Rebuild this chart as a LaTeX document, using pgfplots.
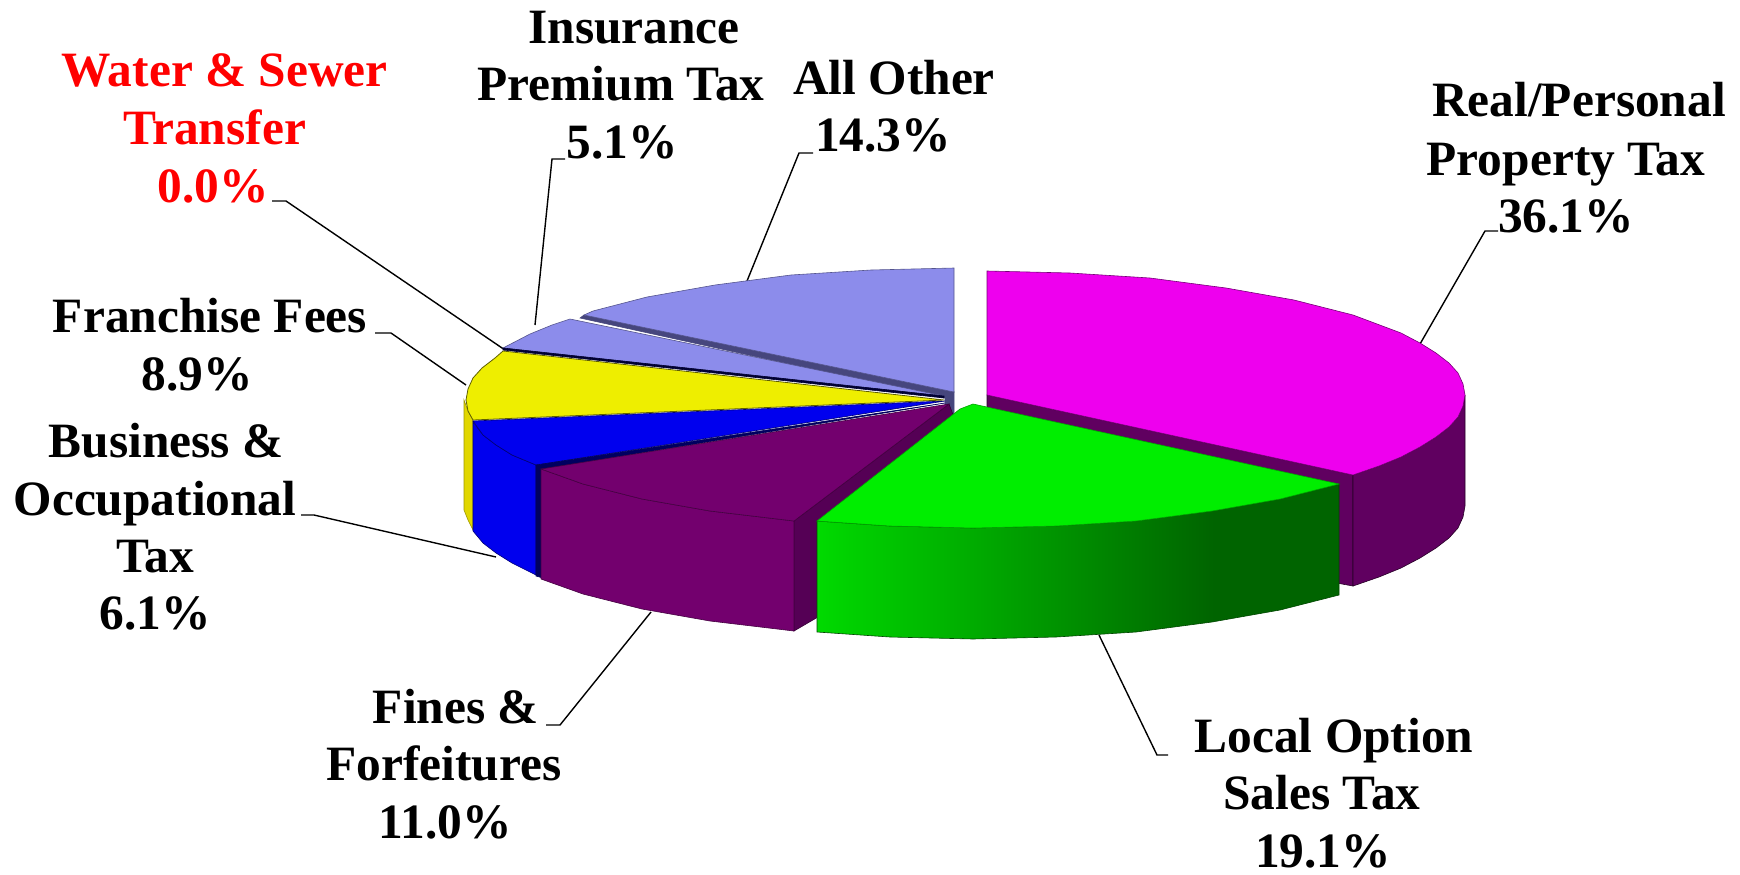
\documentclass[border=0pt]{standalone}
\usepackage{pgfplots}
\pgfplotsset{compat=1.18}
\usepackage{fontspec}
\setmainfont{Liberation Serif}
\definecolor{mag}{RGB}{238,0,238}
\definecolor{magside}{RGB}{96,0,96}
\definecolor{grn}{RGB}{0,238,0}
\definecolor{grnA}{RGB}{0,218,0}
\definecolor{grnB}{RGB}{0,100,0}
\definecolor{pur}{RGB}{115,0,110}
\definecolor{purin}{RGB}{85,0,85}
\definecolor{blu}{RGB}{0,0,238}
\definecolor{navy2}{RGB}{0,0,95}
\definecolor{yel}{RGB}{238,238,0}
\definecolor{yelside}{RGB}{225,215,0}
\definecolor{peri}{RGB}{140,140,235}
\definecolor{peridk}{RGB}{70,70,125}
\pgfdeclarehorizontalshading{greenside}{100bp}{color(0bp)=(grnA); color(25bp)=(grnA); color(63bp)=(grnB); color(75bp)=(grnB); color(100bp)=(grnB)}
\tikzset{
  lab/.style={anchor=base, inner sep=0pt, font=\fontsize{24.7}{29}\selectfont\bfseries},
  ln/.style={black, line width=0.7pt},
}
\begin{document}
\begin{tikzpicture}
\begin{axis}[
  scale only axis, width=870pt, height=437pt,
  xmin=0, xmax=1740, ymin=0, ymax=874, y dir=reverse,
  hide axis, clip=false,
  every axis plot/.append style={no markers},
]
% keeps the full page extent
\addplot[draw=none] coordinates {(0,0)(1740,874)};
% leader lines
\addplot[ln] coordinates {(1420,344)(1485,231)(1498,231)};
\addplot[ln] coordinates {(1099,635)(1157,755)(1168,755)};
\addplot[ln] coordinates {(651,612)(560,725)(546,725)};
\addplot[ln] coordinates {(496,557)(314,515)(301,515)};
\addplot[ln] coordinates {(466,385)(391,333)(375,333)};
\addplot[ln] coordinates {(505,350)(286,201)(272,201)};
\addplot[ln] coordinates {(535,325)(552,159)(565,159)};
\addplot[ln] coordinates {(747,281)(799,153)(813,153)};
% Real/Personal Property Tax
\addplot[fill=magside, draw=black!60!magside, line width=0.3pt] coordinates {(987,395)(1353,475)(1353,586)(1320,580)(987,420)} --cycle;
\addplot[fill=magside, draw=black!60!magside, line width=0.3pt] coordinates {(1353,475)(1379,466)(1401,457)(1420,447)(1436,437)(1449,427)(1458,417)(1463,406)(1465,395)(1465,506)(1463,517)(1458,528)(1449,538)(1436,548)(1420,558)(1401,568)(1379,577)(1353,586)} --cycle;
\addplot[fill=mag, draw=black!50!mag, line width=0.3pt] coordinates {(987,395)(987,271)(1070,273)(1150,278)(1226,288)(1294,300)(1353,315)(1401,333)(1420,343)(1436,353)(1449,363)(1458,373)(1463,384)(1465,395)(1463,406)(1458,417)(1449,427)(1436,437)(1420,447)(1401,457)(1379,466)(1353,475)} --cycle;
% All Other
\addplot[fill=peridk, draw=peridk, line width=0.3pt] coordinates {(945,392)(954,392)(954,418)(945,404)} --cycle;
\addplot[fill=peridk, draw=peridk, line width=0.3pt] coordinates {(580,318)(584,315)(954,392)(944,398)} --cycle;
\addplot[fill=peri, draw=black!40!peri, line width=0.3pt] coordinates {(954,392)(954,268)(871,270)(791,275)(715,285)(647,297)(593,311)(584,315)} --cycle;
% Insurance Premium Tax
\addplot[fill=peri, draw=black!40!peri, line width=0.3pt] coordinates {(944,396)(570,319)(552,325)(530,334)(503,348)} --cycle;
\addplot[fill=black!80!blue, draw=black!80!blue, line width=0.3pt] coordinates {(503,348)(944,396)(944,398)(503,350)} --cycle;
% Franchise Fees
\addplot[fill=yelside, draw=yelside!70!black, line width=0.3pt] coordinates {(464,400)(468,411)(473,420)(473,530)(468,520)(464,510)} --cycle;
\addplot[fill=yel, draw=black!60!yel, line width=0.4pt] coordinates {(944,400)(503,351)(495,358)(482,368)(473,378)(468,389)(466,400)(468,411)(473,420)} --cycle;
% Business & Occupational Tax
\addplot[fill=blu, draw=black!50!blu, line width=0.3pt] coordinates {(473,422)(483,435)(496,445)(512,455)(536,465)(536,575)(512,563)(496,553)(483,543)(473,531)} --cycle;
\addplot[fill=navy2, draw=navy2, line width=0.3pt] coordinates {(536,464)(543,468)(543,578)(536,576)} --cycle;
\addplot[fill=blu, draw=black!50!blu, line width=0.3pt] coordinates {(945,401)(473,421)(483,435)(496,445)(512,455)(536,465)} --cycle;
\addplot[fill=navy2, draw=navy2, line width=0.3pt] coordinates {(536,465)(945,403)(543,469)} --cycle;
% Fines & Forfeitures
\addplot[fill=purin, draw=black!40!purin, line width=0.3pt] coordinates {(794,521)(949,404)(955,420)(960,500)(830,610)(794,631)} --cycle;
\addplot[fill=pur, draw=black!40!pur, line width=0.3pt] coordinates {(541,469)(583,484)(642,499)(710,511)(794,521)(794,631)(710,621)(642,609)(583,594)(541,579)} --cycle;
\addplot[fill=pur, draw=black!40!pur, line width=0.3pt] coordinates {(949,404)(541,469)(583,484)(642,499)(710,511)(794,521)} --cycle;
% Local Option Sales Tax
\addplot[shade, shading=greenside, draw=black!30!grnB, line width=0.3pt] coordinates {(817,521)(890,526)(973,528)(1056,526)(1136,521)(1212,511)(1280,499)(1339,484)(1339,595)(1280,610)(1212,622)(1136,632)(1056,637)(973,639)(890,637)(817,632)} --cycle;
\addplot[fill=grn, draw=black!30!grn, line width=0.3pt] coordinates {(973,404)(1339,484)(1280,499)(1212,511)(1136,521)(1056,526)(973,528)(890,526)(817,521)(960,409)} --cycle;
% labels
\node[lab, red] at (axis cs:224.5,86.5) {Water \& Sewer};
\node[lab, red] at (axis cs:214.5,144) {Transfer};
\node[lab, red] at (axis cs:213,202.5) {0.0\%};
\node[lab] at (axis cs:634,43.5) {Insurance};
\node[lab] at (axis cs:621,100.5) {Premium Tax};
\node[lab] at (axis cs:622,158.5) {5.1\%};
\node[lab] at (axis cs:894,94.5) {All Other};
\node[lab] at (axis cs:883,151.5) {14.3\%};
\node[lab] at (axis cs:1579,116.5) {Real/Personal};
\node[lab] at (axis cs:1566,175.5) {Property Tax};
\node[lab] at (axis cs:1566,232.5) {36.1\%};
\node[lab] at (axis cs:210,332.5) {Franchise Fees};
\node[lab] at (axis cs:197,390.5) {8.9\%};
\node[lab] at (axis cs:166,457.5) {Business \&};
\node[lab] at (axis cs:155,515.5) {Occupational};
\node[lab] at (axis cs:155,572.5) {Tax};
\node[lab] at (axis cs:155,629.5) {6.1\%};
\node[lab] at (axis cs:456,723.5) {Fines \&};
\node[lab] at (axis cs:444,780.5) {Forfeitures};
\node[lab] at (axis cs:445,838.5) {11.0\%};
\node[lab] at (axis cs:1334,752.5) {Local Option};
\node[lab] at (axis cs:1322,809.5) {Sales Tax};
\node[lab] at (axis cs:1323,867) {19.1\%};
\end{axis}
\end{tikzpicture}
\end{document}
